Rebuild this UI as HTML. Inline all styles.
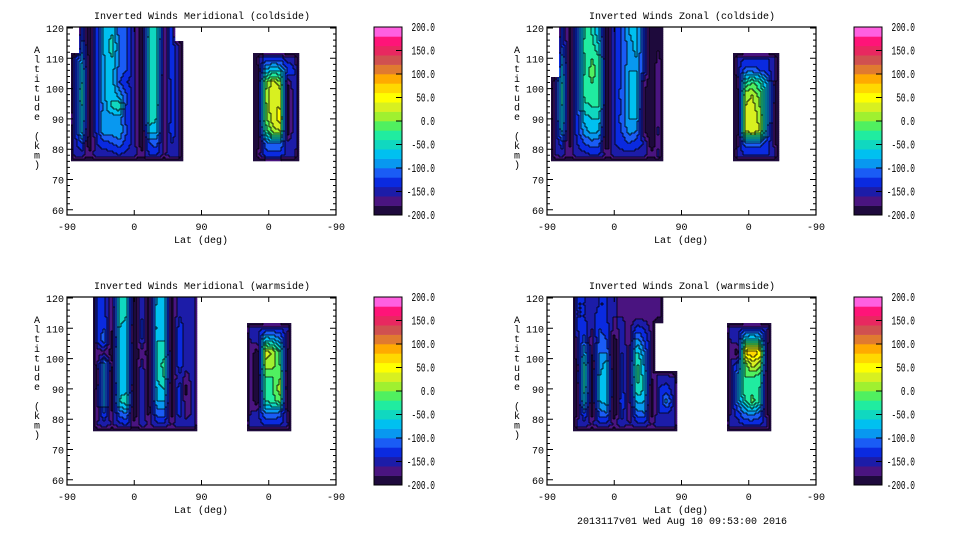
<!DOCTYPE html>
<html><head><meta charset="utf-8">
<style>
html,body{margin:0;padding:0;background:#fff;}
svg{display:block;}
text{font-family:"Liberation Mono",monospace;font-size:10px;fill:#000;}
text.cbl{font-size:11.5px;}
</style></head>
<body>
<svg id="root" width="960" height="540" viewBox="0 0 960 540" xmlns="http://www.w3.org/2000/svg"></svg>
<script>
// ---------- data ----------
const altRows = [78,82,86,90,94,98,102,106,110,114,118];
const levelColors = ['#1e0a3c','#4a1480','#1c1ca8','#0a2ae0','#1a5cf5','#0898f0','#00c0f0','#10d8c0','#20eca0','#50f060','#a0f030','#d8f020','#ffff00','#ffd800','#ffaa00','#e07a30','#d05050','#e82860','#ff1478','#ff60e0'];
const colorbarLabels = [200,150,100,50,0,-50,-100,-150,-200];
const yTickLabels = [120,110,100,90,80,70,60];
const xTickLabels = ['-90','0','90','0','-90'];

const tlLats = [10,20,30,40,50,60,70,80,90,100,110,120,130,140,150,255,265,275,285,295,305];
const tlCols = [
[-150,-150,-150,-140,-150,-150,-150,-150,-150,null,null],
[-150,-120,-70,-60,-60,-50,-60,-60,-90,-110,-130],
[-170,-200,-200,-200,-200,-200,-200,-200,-200,-200,-200],
[-150,-140,-130,-130,-130,-130,-130,-130,-130,-130,-130],
[-150,-130,-80,-80,-90,-80,-80,-80,-80,-70,-70],
[-150,-120,-90,-100,-60,-60,-70,-70,-60,-50,-60],
[-140,-110,-80,-90,-40,-90,-120,-110,-100,-100,-110],
[-150,-130,-120,-130,-130,-120,-140,-120,-120,-120,-120],
[-150,-150,-150,-150,-150,-150,-150,-150,-150,-150,-150],
[-170,-200,-200,-200,-200,-200,-200,-200,-200,-200,-200],
[-140,-120,-70,-50,-50,-50,-50,-50,-50,-50,-60],
[-140,-110,-70,-60,-60,-50,-50,-60,-60,-50,-40],
[-160,-180,-170,-180,-180,-180,-180,-170,-170,-170,-170],
[-150,-140,-130,-130,-130,-130,-130,-130,-130,-130,-130],
[-150,-150,-150,-150,-150,-150,-150,-150,-150,-150,null],
[-170,-200,-200,-200,-200,-200,-200,-200,-170,null,null],
[-130,-110,-40,-10,-10,0,-10,-80,-130,null,null],
[-130,-100,10,30,40,40,30,-60,-130,null,null],
[-130,-100,20,50,40,30,10,-70,-130,null,null],
[-150,-150,-200,-200,-200,-200,-180,-120,-150,null,null],
[-150,-140,-140,-140,-140,-140,-140,-140,-150,null,null]
];

const trLats = [10,20,30,40,50,60,70,80,90,100,110,120,130,140,150,255,265,275,285,295,305];
const trCols = [
[-160,-160,-170,-170,-170,-170,-160,null,null,null,null],
[-150,-130,-80,-60,-60,-50,-60,-70,-90,-120,-130],
[-170,-190,-190,-190,-190,-190,-190,-190,-190,-190,-190],
[-150,-140,-130,-130,-130,-130,-130,-130,-130,-130,-130],
[-150,-120,-90,-70,-50,-30,-30,-40,-40,-30,-40],
[-140,-110,-70,-60,-40,-20,-20,-10,-20,-30,-40],
[-140,-110,-80,-60,-40,-30,-30,-30,-40,-60,-80],
[-170,-200,-200,-200,-200,-200,-200,-200,-200,-200,-200],
[-150,-140,-140,-140,-140,-140,-140,-140,-140,-140,-140],
[-150,-130,-120,-110,-120,-110,-120,-120,-120,-120,-120],
[-150,-120,-90,-80,-80,-80,-80,-80,-90,-90,-80],
[-150,-130,-100,-80,-70,-70,-70,-80,-80,-70,-70],
[-150,-140,-180,-180,-180,-180,-170,-130,-130,-130,-130],
[-170,-200,-200,-200,-200,-200,-200,-200,-200,-200,-200],
[-150,-160,-150,-160,-160,-160,-160,-160,-170,-180,-180],
[-150,-170,-200,-200,-200,-200,-180,-150,-150,null,null],
[-140,-110,20,30,20,10,-40,-110,-140,null,null],
[-140,-110,40,40,30,20,-20,-110,-140,null,null],
[-140,-110,20,10,0,-10,-40,-120,-140,null,null],
[-140,-130,-100,-90,-90,-80,-90,-130,-140,null,null],
[-150,-170,-170,-170,-170,-170,-170,-160,-150,null,null]
];

const blLats = [40,50,60,70,80,90,100,110,120,130,140,150,160,170,245,255,265,275,285,295];
const blCols = [
[-160,-170,-170,-170,-180,-170,-170,-140,-140,-140,-140],
[-150,-120,-80,-90,-80,-80,-170,-100,-120,-130,-130],
[-160,-180,-190,-190,-190,-180,-190,-190,-180,-180,-180],
[-150,-110,-60,-70,-60,-70,-60,-70,-60,-50,-40],
[-140,-100,-40,-70,-60,-60,-60,-70,-70,-60,-60],
[-170,-200,-200,-200,-200,-200,-200,-200,-200,-200,-200],
[-150,-140,-140,-140,-140,-150,-170,-140,-130,-140,-140],
[-160,-190,-190,-190,-190,-190,-190,-190,-190,-190,-190],
[-150,-110,-80,-70,-60,-60,-60,-60,-70,-60,-70],
[-150,-110,-80,-60,-40,-30,-50,-60,-70,-60,-70],
[-160,-190,-190,-190,-190,-190,-190,-190,-190,-190,-190],
[-150,-130,-120,-130,-140,-130,-130,-130,-130,-140,-140],
[-150,-170,-180,-190,-170,-150,-150,-150,-150,-150,-150],
[-150,-150,-140,-140,-140,-140,-140,-140,-150,-150,-150],
[-150,-160,-160,-160,-160,-160,-160,-160,-150,null,null],
[-150,-150,-200,-200,-200,-200,-200,-150,-150,null,null],
[-140,-100,-40,-30,-20,10,30,-60,-140,null,null],
[-140,-100,-30,-20,-20,10,20,-70,-140,null,null],
[-140,-110,-10,10,0,-20,-30,-90,-140,null,null],
[-150,-170,-200,-200,-200,-190,-180,-160,-150,null,null]
];

const brLats = [40,50,60,70,80,90,100,110,120,130,140,150,160,170,245,255,265,275,285,295];
const brCols = [
[-150,-180,-180,-180,-180,-180,-160,-150,-140,-140,-140],
[-150,-120,-60,-50,-40,-50,-80,-110,-130,-140,-140],
[-160,-190,-190,-190,-190,-190,-180,-180,-160,-150,-150],
[-150,-110,-80,-70,-80,-90,-100,-110,-120,-130,-140],
[-150,-100,-70,-60,-60,-70,-100,-120,-130,-140,-140],
[-160,-200,-200,-200,-200,-200,-200,-190,-170,-160,-150],
[-150,-130,-120,-130,-130,-130,-140,-150,-150,-160,-170],
[-160,-170,-170,-170,-170,-170,-170,-170,-170,-170,-170],
[-150,-110,-70,-40,-30,-30,-50,-90,-130,-170,-170],
[-150,-100,-80,-60,-70,-80,-100,-120,-140,-170,-170],
[-160,-190,-190,-190,-180,-170,-160,-160,-170,-170,-170],
[-150,-140,-140,-140,-150,null,null,null,null,-170,-170],
[-150,-140,-90,-130,-150,null,null,null,null,null,null],
[-150,-150,-150,-150,-160,null,null,null,null,null,null],
[-150,-160,-160,-160,-160,-160,-160,-160,-150,null,null],
[-150,-130,-100,-90,-100,-120,-200,-150,-150,null,null],
[-140,-100,-40,-20,-20,-10,60,-50,-140,null,null],
[-140,-90,-10,-30,-20,30,80,-40,-140,null,null],
[-140,-110,-40,-40,-30,10,60,-60,-140,null,null],
[-150,-180,-200,-200,-200,-190,-190,-170,-150,null,null]
];

// ---------- rendering ----------
const NS='http://www.w3.org/2000/svg';
const root=document.getElementById('root');
function mk(tag,attrs,parent){const e=document.createElementNS(NS,tag);for(const k in attrs)e.setAttribute(k,attrs[k]);(parent||root).appendChild(e);return e;}

function levelOf(v){let l=Math.floor((v+200)/20);return Math.max(0,Math.min(19,l));}
const FADE=-250;

function sample(lats,cols,u,alt){
  if(alt>120||alt<76)return null;
  let jn=-1;
  for(let j=0;j<lats.length;j++){if(Math.abs(u-lats[j])<=5){jn=j;break;}}
  if(jn<0)return null;
  let ii=Math.round((alt-78)/4);ii=Math.max(0,Math.min(10,ii));
  if(cols[jn][ii]===null)return null;
  const fi=(alt-78)/4;let i0=Math.floor(fi);let t=fi-i0;
  let ja,jb,s;
  if(u>=lats[jn]){ja=jn;jb=(jn+1<lats.length&&lats[jn+1]-lats[jn]===10)?jn+1:-1;s=(u-lats[jn])/10;}
  else{jb=jn;ja=(jn-1>=0&&lats[jn]-lats[jn-1]===10)?jn-1:-1;s=(u-(lats[jn]-10))/10;}
  function val(j,i){
    if(j<0)return FADE;
    if(i>10)i=10;
    if(i<0)return FADE;
    const v=cols[j][i];
    return v===null?FADE:v;
  }
  const v00=val(ja,i0),v10=val(jb,i0),v01=val(ja,i0+1),v11=val(jb,i0+1);
  return (1-s)*(1-t)*v00+s*(1-t)*v10+(1-s)*t*v01+s*t*v11;
}

function drawPanel(ox,oy,title,lats,cols,name){
  const g=mk('g',{});
  
  
  const x0=ox+67,x1=ox+336,yTop=oy+27,yBot=oy+215;
  const xs=u=>x0+u*269/360;
  const ys=a=>oy+28+(120-a)*3.03;
  const fill=mk('g',{},g);
  
  
  const step=2;
  const grid=[];
  for(let py=yTop;py<yBot;py+=step){
    const row=[];
    const alt=120-(py+step/2-(oy+28))/3.03;
    for(let px=x0;px<x1;px+=step){
      const u=(px+step/2-x0)*360/269;
      const v=sample(lats,cols,u,alt);
      row.push(v===null?-1:levelOf(v));
    }
    grid.push(row);
  }
  grid.forEach((row,r)=>{
    let c=0;
    while(c<row.length){
      const L=row[c];let e=c;
      while(e+1<row.length&&row[e+1]===L)e++;
      if(L>=0){
        const rc=mk('rect',{x:x0+c*step,y:yTop+r*step,width:(e-c+1)*step+0.3,height:step+0.3,fill:levelColors[L]},fill);
        
        
      }
      c=e+1;
    }
  });
  let d='';
  for(let r=0;r<grid.length;r++)for(let c=0;c<grid[r].length;c++){
    const L=grid[r][c];if(L<0)continue;
    if(c+1<grid[r].length&&grid[r][c+1]>=0&&grid[r][c+1]!==L)d+='M'+(x0+(c+1)*step)+' '+(yTop+r*step)+'v'+step;
    if(r+1<grid.length&&grid[r+1][c]>=0&&grid[r+1][c]!==L)d+='M'+(x0+c*step)+' '+(yTop+(r+1)*step)+'h'+step;
  }
  const cl=mk('path',{d:d,stroke:'#000','stroke-width':0.8,fill:'none'},g);
  
  
  const fr=mk('rect',{x:x0,y:yTop,width:x1-x0,height:yBot-yTop,fill:'none',stroke:'#000','stroke-width':1.2},g);
  
  
  let td='';
  for(let a=60;a<=120;a+=2){
    const y=ys(a);const len=(a%10===0)?6:3;
    td+='M'+x0+' '+y+'h'+len+'M'+x1+' '+y+'h'+(-len);
  }
  for(let k=0;k<5;k++){const x=xs(k*90);td+='M'+x+' '+yBot+'v-5M'+x+' '+yTop+'v5';}
  const tk=mk('path',{d:td,stroke:'#000','stroke-width':1},g);
  
  
  yTickLabels.forEach(a=>{
    const t=mk('text',{x:x0-3,y:ys(a)+4,'text-anchor':'end'},g);t.textContent=a;
    
    
  });
  xTickLabels.forEach((s,k)=>{
    const t=mk('text',{x:xs(k*90),y:yBot+15,'text-anchor':'middle'},g);t.textContent=s;
    
    
  });
  const xt=mk('text',{x:ox+201,y:oy+243,'text-anchor':'middle'},g);xt.textContent='Lat (deg)';
  
  
  const tt=mk('text',{x:ox+202,y:oy+19,'text-anchor':'middle'},g);tt.textContent=title;
  
  
  const yl='Altitude (km)';
  const yg=mk('g',{},g);
  
  
  for(let i=0;i<yl.length;i++){
    const t=mk('text',{x:ox+37,y:oy+53+i*9.6,'text-anchor':'middle'},yg);t.textContent=yl[i];
  }
  const cb=mk('g',{},g);
  
  
  const cx=ox+374,cw=28,ct=oy+27,cbH=188;
  levelColors.forEach((col,i)=>{
    const h=cbH/20;
    const r=mk('rect',{x:cx,y:ct+cbH-(i+1)*h,width:cw,height:h+0.3,fill:col},cb);
    
    
  });
  mk('rect',{x:cx,y:ct,width:cw,height:cbH,fill:'none',stroke:'#000','stroke-width':1},cb);
  colorbarLabels.forEach(v=>{
    const y=ct+cbH*(200-v)/400;
    if(v!==200&&v!==-200)mk('path',{d:'M'+(cx+cw)+' '+y+'h-6',stroke:'#000','stroke-width':1},cb);
    const s=v.toFixed(1);
    const t=mk('text',{class:'cbl',x:ox+435,y:y+4,'text-anchor':'end',textLength:(s.length*4.7).toFixed(1),lengthAdjust:'spacingAndGlyphs'},cb);t.textContent=s;
    
    
  });
}

drawPanel(0,0,'Inverted Winds Meridional (coldside)',tlLats,tlCols,'meridional-coldside-panel');
drawPanel(480,0,'Inverted Winds Zonal (coldside)',trLats,trCols,'zonal-coldside-panel');
drawPanel(0,270,'Inverted Winds Meridional (warmside)',blLats,blCols,'meridional-warmside-panel');
drawPanel(480,270,'Inverted Winds Zonal (warmside)',brLats,brCols,'zonal-warmside-panel');

const ft=mk('text',{x:682,y:524,'text-anchor':'middle'});
ft.textContent='2013117v01 Wed Aug 10 09:53:00 2016';


</script>
</body></html>
